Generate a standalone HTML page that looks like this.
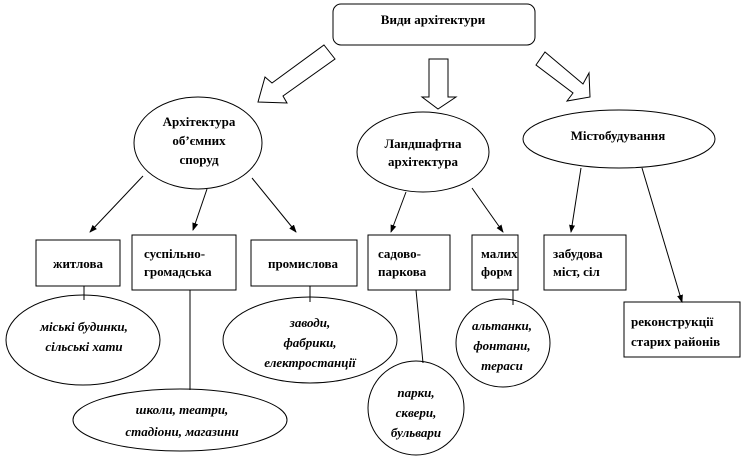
<!DOCTYPE html>
<html><head><meta charset="utf-8"><style>
html,body{margin:0;padding:0;background:#fff;}
text{font-family:"Liberation Serif","DejaVu Serif",serif !important;fill:#000;}
.b{font-weight:bold;font-size:13px;}
.i{font-style:italic;font-weight:bold;font-size:13px;}
.n{font-size:13px;font-weight:bold;}
</style></head><body>
<svg width="749" height="457" viewBox="0 0 749 457" xmlns="http://www.w3.org/2000/svg" font-family="Liberation Serif, serif">
<defs><marker id="a" markerWidth="8" markerHeight="8" refX="7" refY="4" orient="auto"><path d="M0,1 L8,4 L0,7 z" fill="#000"/></marker></defs>
<g fill="none" stroke="#000" stroke-width="1">
<rect x="333" y="4" width="202" height="41" rx="8"/>
<polygon points="324,45 335,59 283,96 287,103 258,102 265,77 272,83" fill="#fff"/>
<polygon points="429,59 448,59 448,97 456,97 438,109 422,97 429,97" fill="#fff"/>
<polygon points="545,52 583,84 589,73 590,97 567,101 573,93 536,65" fill="#fff"/>
<ellipse cx="198" cy="143" rx="64" ry="46"/>
<ellipse cx="423" cy="152" rx="66" ry="40"/>
<ellipse cx="619" cy="139" rx="96" ry="29"/>
<line x1="143" y1="176" x2="90" y2="232" marker-end="url(#a)"/>
<line x1="207" y1="189" x2="193" y2="230" marker-end="url(#a)"/>
<line x1="252" y1="178" x2="296" y2="232" marker-end="url(#a)"/>
<line x1="406" y1="192" x2="391" y2="232" marker-end="url(#a)"/>
<line x1="472" y1="188" x2="503" y2="232" marker-end="url(#a)"/>
<line x1="581" y1="168" x2="571" y2="232" marker-end="url(#a)"/>
<line x1="642" y1="168" x2="682" y2="302" marker-end="url(#a)"/>
<rect x="36" y="240" width="84" height="46"/>
<rect x="132" y="235" width="104" height="55"/>
<rect x="251" y="240" width="106" height="46"/>
<rect x="368" y="235" width="82" height="55"/>
<rect x="472" y="235" width="46" height="55"/>
<rect x="544" y="235" width="82" height="55"/>
<rect x="624" y="302" width="116" height="55"/>
<line x1="84" y1="286" x2="84" y2="300"/>
<line x1="190" y1="290" x2="190" y2="390"/>
<line x1="310" y1="286" x2="310" y2="302"/>
<line x1="416" y1="290" x2="423" y2="363"/>
<line x1="513" y1="290" x2="513" y2="305"/>
<ellipse cx="83" cy="340" rx="77" ry="45"/>
<ellipse cx="180" cy="420" rx="107" ry="31"/>
<ellipse cx="310" cy="340" rx="87" ry="43"/>
<ellipse cx="416" cy="408" rx="48" ry="47"/>
<ellipse cx="503" cy="343" rx="47" ry="44"/>
</g>
<text class="b" x="433" y="24" text-anchor="middle">Види архітектури</text>
<text class="b" x="199" y="126" text-anchor="middle">Архітектура</text>
<text class="b" x="199" y="145" text-anchor="middle">об’ємних</text>
<text class="b" x="199" y="164" text-anchor="middle">споруд</text>
<text class="b" x="423" y="148" text-anchor="middle">Ландшафтна</text>
<text class="b" x="423" y="166" text-anchor="middle">архітектура</text>
<text class="b" x="618" y="140" text-anchor="middle">Містобудування</text>
<text class="n" x="78" y="268" text-anchor="middle">житлова</text>
<text class="n" x="144" y="258">суспільно-</text>
<text class="n" x="144" y="276">громадська</text>
<text class="n" x="303" y="268" text-anchor="middle">промислова</text>
<text class="n" x="378" y="258">садово-</text>
<text class="n" x="378" y="276">паркова</text>
<text class="n" x="481" y="258">малих</text>
<text class="n" x="481" y="276">форм</text>
<text class="n" x="553" y="258">забудова</text>
<text class="n" x="553" y="276">міст, сіл</text>
<text class="n" x="631" y="326">реконструкції</text>
<text class="n" x="631" y="346">старих районів</text>
<text class="i" x="84" y="331" text-anchor="middle">міські будинки,</text>
<text class="i" x="84" y="351" text-anchor="middle">сільські хати</text>
<text class="i" x="310" y="327" text-anchor="middle">заводи,</text>
<text class="i" x="310" y="347" text-anchor="middle">фабрики,</text>
<text class="i" x="310" y="367" text-anchor="middle">електростанції</text>
<text class="i" x="502" y="330" text-anchor="middle">альтанки,</text>
<text class="i" x="502" y="350" text-anchor="middle">фонтани,</text>
<text class="i" x="502" y="370" text-anchor="middle">тераси</text>
<text class="i" x="182" y="414" text-anchor="middle">школи, театри,</text>
<text class="i" x="182" y="436" text-anchor="middle">стадіони, магазини</text>
<text class="i" x="416" y="397" text-anchor="middle">парки,</text>
<text class="i" x="416" y="417" text-anchor="middle">сквери,</text>
<text class="i" x="416" y="437" text-anchor="middle">бульвари</text>
</svg>
</body></html>
